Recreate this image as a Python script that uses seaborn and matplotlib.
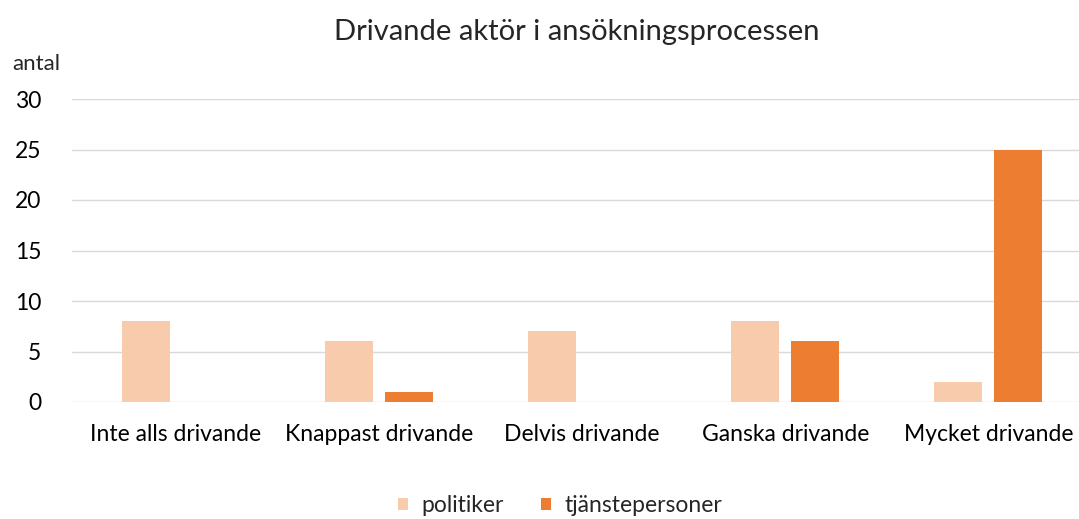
import matplotlib
matplotlib.use("Agg")
import matplotlib.pyplot as plt
import pandas as pd
import seaborn as sns

categories = ["Inte alls drivande", "Knappast drivande", "Delvis drivande",
              "Ganska drivande", "Mycket drivande"]
politiker = [8, 6, 7, 8, 2]
tjanstepersoner = [0, 1, 0, 6, 25]
series_names = ["politiker", "tjänstepersoner"]

COLOR_LIGHT = "#F8CBAD"
COLOR_DARK = "#ED7D31"

sns.set_style("white")
plt.rcParams["font.family"] = ["Lato", "DejaVu Sans"]

df = pd.DataFrame({
    "kategori": categories * 2,
    "antal": politiker + tjanstepersoner,
    "serie": [series_names[0]] * len(categories) + [series_names[1]] * len(categories),
})

fig = plt.figure(figsize=(10.79, 5.19), dpi=100)
# plot area runs past the right edge, as in the original (gridlines are clipped)
ax = fig.add_axes([72 / 1079, 1 - 402 / 519, 1018 / 1079, 303 / 519])

sns.barplot(
    data=df, x="kategori", y="antal", hue="serie", ax=ax,
    order=categories, hue_order=series_names,
    palette=[COLOR_LIGHT, COLOR_DARK],
    width=0.59, gap=0.2, saturation=1, linewidth=0, legend=True,
)

ax.set_ylim(0, 30)
ax.set_yticks(range(0, 31, 5))
ax.set_xlim(-0.51, 4.5)
ax.yaxis.grid(True, color="#D9D9D9", linewidth=1)
ax.set_axisbelow(True)
for spine in ax.spines.values():
    spine.set_visible(False)
ax.tick_params(axis="both", length=0, labelsize=16.5, colors="#000000")
ax.tick_params(axis="y", pad=22)
ax.tick_params(axis="x", pad=16)
ax.set_xlabel("")
ax.set_ylabel("")

fig.text(12 / 1079, 1 - 64 / 519, "antal", fontsize=16, va="center", ha="left")
fig.text(577 / 1079, 1 - 32 / 519, "Drivande aktör i ansökningsprocessen",
         fontsize=21, va="center", ha="center")

handles, labels = ax.get_legend_handles_labels()
ax.legend_.remove()
fig.legend(handles, labels, loc="center", bbox_to_anchor=(560 / 1079, 1 - 506 / 519),
           ncol=2, frameon=False, fontsize=16.5, handlelength=0.45, handleheight=0.45,
           columnspacing=1.6, handletextpad=0.6)

fig.savefig("out.png", dpi=100)
